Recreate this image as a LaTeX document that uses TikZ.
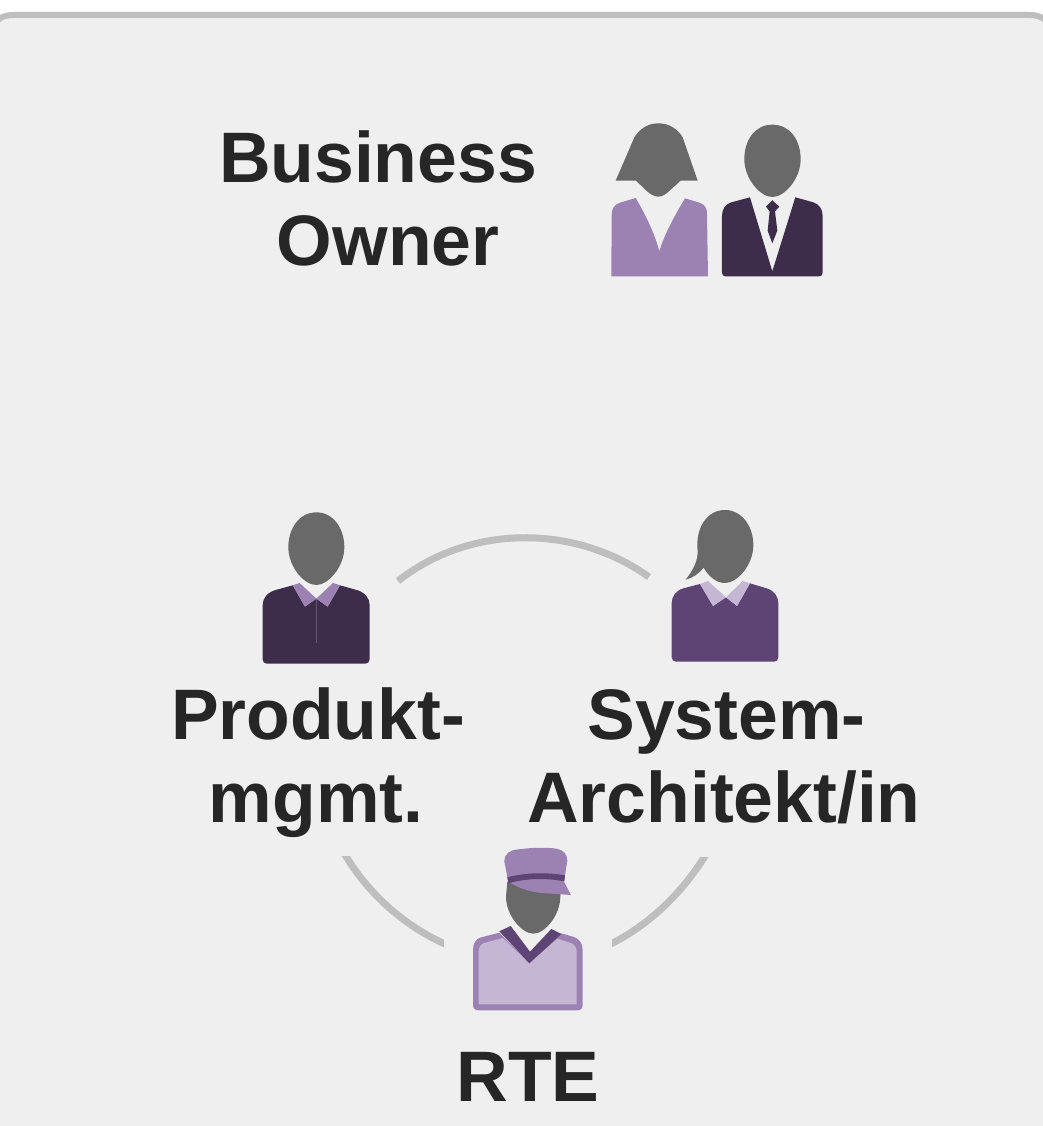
\documentclass[tikz,border=0pt]{standalone}
\usepackage{fontspec}
\setmainfont{Liberation Sans}
\definecolor{panelbg}{HTML}{EFEFEF}
\definecolor{panelline}{HTML}{BEBEBE}
\definecolor{headgrey}{HTML}{696969}
\definecolor{darkplum}{HTML}{3D2C4A}
\definecolor{midplum}{HTML}{5E4475}
\definecolor{lilac}{HTML}{9C82B3}
\definecolor{palelilac}{HTML}{C5B7D3}
\definecolor{labeltext}{HTML}{262626}
\tikzset{
  lbl/.style={font=\fontsize{71.5}{83}\selectfont\bfseries,text=labeltext,align=center,inner sep=0pt},
  link/.style={draw=panelline,line width=7pt,line cap=butt},
  head/.style={fill=headgrey},
  zoomed/.style={x=0.3333pt,y=-0.3333pt}
}
\begin{document}
\begin{tikzpicture}[x=1pt,y=-1pt]
\useasboundingbox (0,0) rectangle (1043,1126);
\fill[white] (0,0) rectangle (1043,1126);
\path[fill=panelbg,draw=panelline,line width=6pt] (-7,1140) -- (-7,35) .. controls (-7,21) and (0,15) .. (14,15) -- (1029,15) .. controls (1043,15) and (1050,21) .. (1050,35) -- (1050,1140) -- cycle;

% Woman business owner
\begin{scope}[shift={(590,110)},zoomed]
\fill[head] (77,212) -- (133,82) .. controls (150,55) and (175,40) .. (205,40) .. controls (235,40) and (262,55) .. (278,82) -- (323,212) -- (272,212) -- (240,241) .. controls (228,252) and (218,260) .. (205,260) .. controls (192,260) and (180,252) .. (168,241) -- (138,212) -- cycle;
\fill[lilac] (137,264) .. controls (170,320) and (195,375) .. (208,424) .. controls (222,375) and (255,315) .. (285,265) -- (328,278) .. controls (345,283) and (351,295) .. (351,312) -- (354,499) -- (64,499) -- (65,318) .. controls (65,295) and (72,285) .. (90,278) -- cycle;
\end{scope}

% Man business owner
\begin{scope}[shift={(590,110)},zoomed]
\fill[head] (547,44) .. controls (600,44) and (632,90) .. (632,148) .. controls (632,205) and (585,261) .. (547,261) .. controls (510,261) and (463,205) .. (463,148) .. controls (463,90) and (495,44) .. (547,44) -- cycle;
\fill[darkplum] (480,262) -- (547,484) -- (616,262) -- (670,277) .. controls (688,283) and (698,297) .. (698,318) -- (698,488) .. controls (698,495) and (694,499) .. (688,499) -- (406,499) .. controls (400,499) and (396,495) .. (396,488) -- (396,318) .. controls (396,297) and (406,283) .. (424,277) -- cycle;
\fill[darkplum] (547,271) -- (568,290) -- (555,304) -- (562,362) -- (547,400) -- (533,362) -- (539,304) -- (528,290) -- cycle;
\end{scope}

% Produktmanagement
\begin{scope}[shift={(240,500)},zoomed]
\fill[head] (229,37) .. controls (280,37) and (313,85) .. (313,142) .. controls (313,200) and (265,255) .. (229,255) .. controls (192,255) and (145,200) .. (145,142) .. controls (145,85) and (178,37) .. (229,37) -- cycle;
\fill[darkplum] (158,256) -- (195,320) -- (229,296) -- (263,320) -- (300,256) -- (350,270) .. controls (375,277) and (389,295) .. (389,315) -- (389,478) .. controls (389,486) and (383,491) .. (376,491) -- (80,491) .. controls (73,491) and (68,486) .. (68,478) -- (68,315) .. controls (68,295) and (82,277) .. (107,270) -- cycle;
\fill[lilac] (158,256) -- (179,249) -- (229,296) -- (279,249) -- (300,256) -- (263,320) -- (229,296) -- (195,320) -- cycle;
\draw[lilac!45!darkplum,line width=0.6pt] (229,296) -- (229,430);
\end{scope}

% Systemarchitektin
\begin{scope}[shift={(650,500)},zoomed]
\fill[head] (225,30) .. controls (275,30) and (310,78) .. (310,135) .. controls (310,195) and (262,249) .. (225,249) .. controls (198,249) and (175,228) .. (161,203) .. controls (145,222) and (128,234) .. (107,239) .. controls (128,212) and (143,185) .. (143,155) .. controls (135,85) and (170,30) .. (225,30) -- cycle;
\fill[midplum] (150,252) -- (189,318) -- (228,292) -- (261,318) -- (300,250) -- (350,265) .. controls (373,272) and (385,290) .. (385,310) -- (385,472) .. controls (385,480) and (380,485) .. (373,485) -- (78,485) .. controls (71,485) and (65,480) .. (65,472) -- (65,310) .. controls (65,290) and (77,272) .. (100,265) -- cycle;
\fill[palelilac] (150,252) -- (174,243) -- (228,292) -- (278,243) -- (300,250) -- (261,318) -- (228,292) -- (189,318) -- cycle;
\end{scope}

% RTE
\begin{scope}[shift={(450,840)},zoomed]
\fill[head] (172,125) -- (331,125) -- (331,170) .. controls (331,225) and (285,281) .. (250,281) .. controls (215,281) and (168,225) .. (168,170) -- cycle;
\fill[lilac] (163,65) .. controls (163,40) and (180,30) .. (205,28) .. controls (250,22) and (290,22) .. (320,26) .. controls (340,30) and (352,42) .. (352,62) -- (342,125) -- (363,165) -- (290,160) .. controls (250,158) and (215,150) .. (175,125) -- cycle;
\fill[midplum] (172,112) .. controls (225,98) and (285,96) .. (345,106) -- (343,124) .. controls (285,113) and (225,115) .. (175,130) -- cycle;
\fill[lilac] (148,278) -- (90,293) .. controls (77,298) and (69,310) .. (69,330) -- (69,495) .. controls (69,505) and (75,511) .. (85,511) -- (382,511) .. controls (392,511) and (398,505) .. (398,495) -- (398,330) .. controls (398,310) and (388,297) .. (372,291) -- (334,280) -- (238,370) -- cycle;
\fill[palelilac] (158,294) -- (102,309) .. controls (92,313) and (86,322) .. (86,335) -- (86,493) -- (380,493) -- (380,335) .. controls (380,322) and (374,313) .. (362,309) -- (322,296) -- (238,370) -- cycle;
\fill[midplum] (148,274) -- (182,258) -- (240,335) -- (304,267) -- (334,282) -- (238,370) -- cycle;
\end{scope}

% Labels
\node[lbl] (owner) at (378,198) {Business\\\hspace*{20pt}Owner};
\node[lbl] (pm) at (318,763) {Produkt-\\\hspace*{-4pt}mgmt.};
\node[lbl] (arch) at (724,757) {\hspace*{5pt}System-\\Architekt/in};
\node[lbl] (rte) at (528,1076.5) {RTE};

% Connectors
\coordinate (pmR) at (398,581);
\coordinate (archL) at (649,577);
\coordinate (pmB) at (340,846);
\coordinate (rteL) at (454,948);
\coordinate (archB) at (711,846);
\coordinate (rteR) at (602,948);
\draw[link] (pmR) .. controls (470,524) and (575,524) .. (archL);
\begin{scope}
\clip (300,856) rectangle (444,960);
\draw[link] (pmB) .. controls (365,892) and (405,928) .. (rteL);
\end{scope}
\begin{scope}
\clip (612,857) rectangle (750,960);
\draw[link] (archB) .. controls (686,890) and (648,928) .. (rteR);
\end{scope}
\end{tikzpicture}
\end{document}
